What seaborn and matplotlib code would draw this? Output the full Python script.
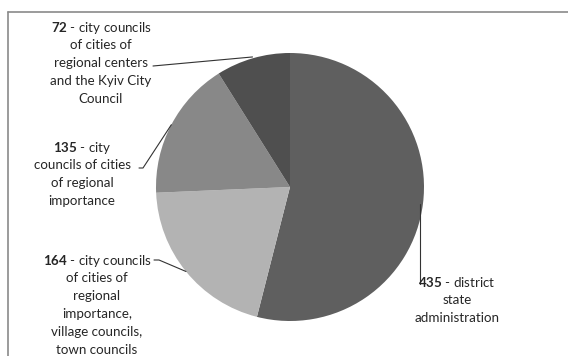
import numpy as np
import matplotlib
matplotlib.use("Agg")
import matplotlib.pyplot as plt
import seaborn as sns
from matplotlib.lines import Line2D

# ---- data ----
values = [435, 164, 135, 72]
numbers = ["435", "164", "135", "72"]
descriptions = [
    " - district\nstate\nadministration",
    " - city councils\nof cities of\nregional\nimportance,\nvillage councils,\ntown councils",
    " - city\ncouncils of cities\nof regional\nimportance",
    " - city councils\nof cities of\nregional centers\nand the Kyiv City\nCouncil",
]
colors = ["#5f5f5f", "#b3b3b3", "#888888", "#4f4f4f"]

sns.set_theme(style="white")
FONT = "Lato"
plt.rcParams["font.family"] = [FONT, "DejaVu Sans"]
plt.rcParams["mathtext.fontset"] = "custom"
plt.rcParams["mathtext.rm"] = FONT
plt.rcParams["mathtext.bf"] = FONT + ":bold"

W, H = 568, 356
fig = plt.figure(figsize=(W / 100, H / 100), dpi=100)
fig.patch.set_facecolor("white")

cx, cy, r = 290, 187, 134
ax = fig.add_axes([(cx - r) / W, (H - cy - r) / H, 2 * r / W, 2 * r / H])
wedges, _ = ax.pie(values, colors=colors, startangle=90, counterclock=False,
                   wedgeprops=dict(linewidth=0))
ax.set_xlim(-1, 1)
ax.set_ylim(-1, 1)
ax.set_aspect("equal")
ax.axis("off")

def fig_pt(px, py):
    return px / W, 1 - py / H

def edge_pt(w, rr=1.0):
    th = np.deg2rad((w.theta1 + w.theta2) / 2)
    dx, dy = rr * np.cos(th), rr * np.sin(th)
    return cx + dx * r, cy - dy * r

# frame (cropped border: top and left)
fig.add_artist(Line2D([8 / W, 1], [1 - 12 / H, 1 - 12 / H], color="#8a8a8a", lw=1.2, transform=fig.transFigure))
fig.add_artist(Line2D([8 / W, 8 / W], [1 - 12 / H, 0], color="#8a8a8a", lw=1.2, transform=fig.transFigure))

fs = 9.6
step = 17.9

def label(i, px, py_center_first, ha="center"):
    lines = descriptions[i].split("\n")
    first = r"$\mathbf{" + numbers[i] + "}$" + lines[0]
    for k, ln in enumerate([first] + lines[1:]):
        x, y = fig_pt(px, py_center_first + k * step)
        fig.text(x, y, ln, ha=ha, va="center_baseline", fontsize=fs,
                 color="#262626")

# 72 label
label(3, 101, 26)
# 135 label
label(2, 82, 146)
# 164 label
label(1, 97, 259)
# 435 label
label(0, 457, 281)

def line(pts):
    xs = [p[0] / W for p in pts]
    ys = [1 - p[1] / H for p in pts]
    fig.add_artist(Line2D(xs, ys, color="#333333", lw=0.8, transform=fig.transFigure))

# leader lines
e72 = edge_pt(wedges[3], 1.01)
line([(153, 66), e72])
e135 = edge_pt(wedges[2], 1.0)
line([(139, 168), (143, 168), e135])
e164 = edge_pt(wedges[1], 1.0)
line([(154, 260), (159, 260), e164])
e435 = edge_pt(wedges[0], 1.0)
line([(420, e435[1]), (420, 284)])

fig.savefig("out.png", dpi=100, facecolor="white")
